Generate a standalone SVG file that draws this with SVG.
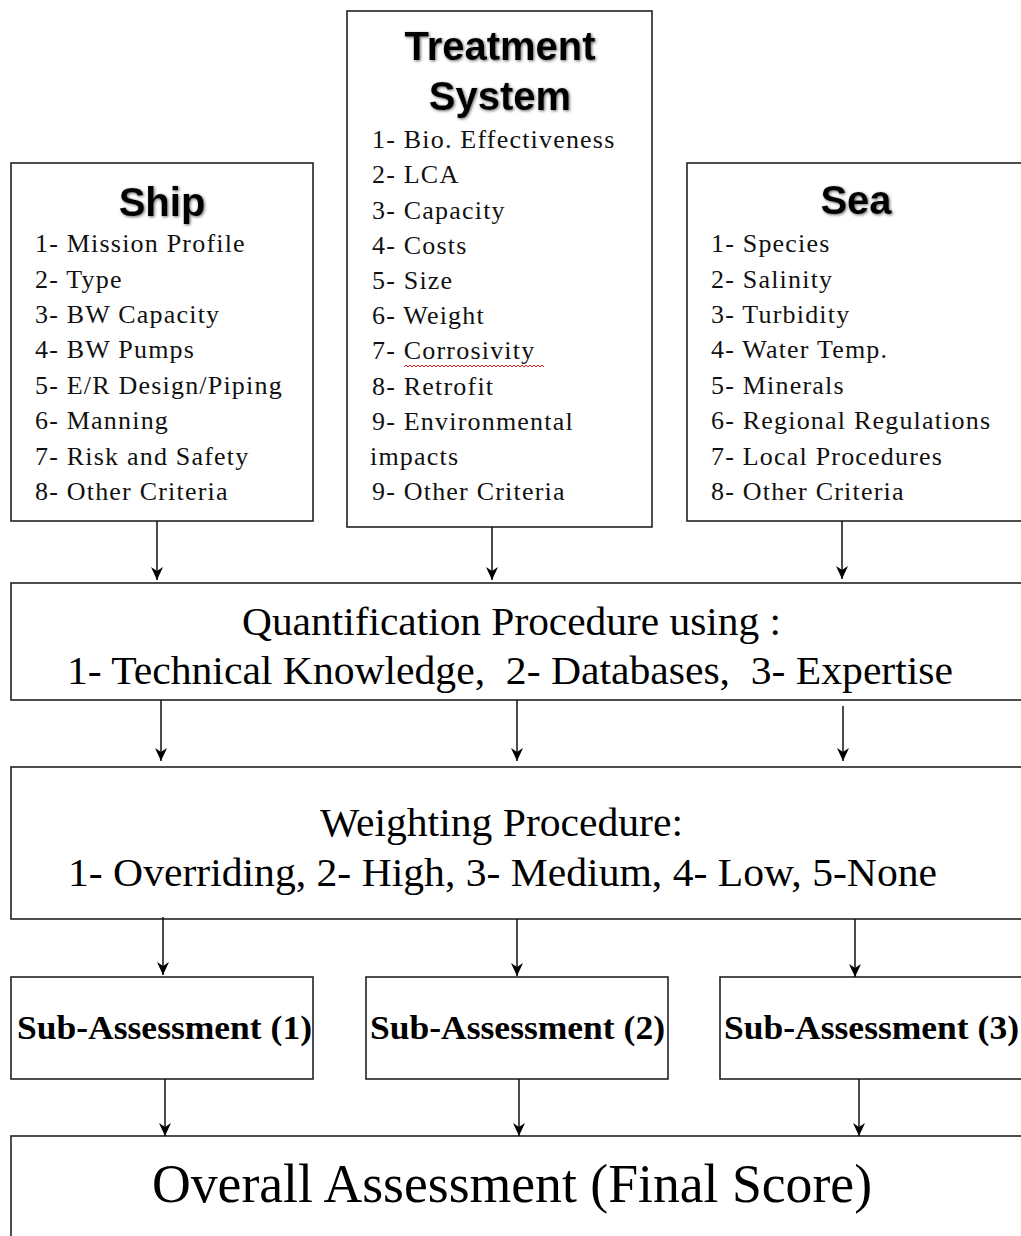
<svg xmlns="http://www.w3.org/2000/svg" width="1021" height="1236" viewBox="0 0 1021 1236">
<style>
.box{fill:#fff;stroke:#222;stroke-width:1.6}
.hdr{font-family:"Liberation Sans",Arial,sans-serif;font-weight:bold;font-size:40px;fill:#000;text-anchor:middle}
.item{font-family:"Liberation Serif","Times New Roman",serif;font-size:26px;letter-spacing:1.2px;fill:#111}
.big{font-family:"Liberation Serif","Times New Roman",serif;font-size:39px;fill:#000}
.sub{font-family:"Liberation Serif","Times New Roman",serif;font-weight:bold;font-size:34px;fill:#000}
.final{font-family:"Liberation Serif","Times New Roman",serif;font-size:54px;fill:#000}
.conn{stroke:#111;stroke-width:1.5;fill:none}
</style>
<defs>
<marker id="arr" markerUnits="userSpaceOnUse" markerWidth="14" markerHeight="14" refX="13" refY="6" orient="auto">
<path d="M0,0 L13,6 L0,12 L4,6 z" fill="#000"/>
</marker>
<filter id="shadow" x="-10%" y="-20%" width="130%" height="150%">
<feGaussianBlur in="SourceAlpha" stdDeviation="1.4" result="b"/>
<feOffset in="b" dx="1" dy="1" result="o"/>
<feFlood flood-color="#666" result="c"/>
<feComposite in="c" in2="o" operator="in" result="s"/>
<feMerge><feMergeNode in="s"/><feMergeNode in="SourceGraphic"/></feMerge>
</filter>
</defs>

<g id="ship">
<rect class="box" x="11" y="163" width="302" height="358"/>
<text class="hdr" x="162" y="216" filter="url(#shadow)">Ship</text>
<text class="item" x="35" y="252">1- Mission Profile</text>
<text class="item" x="35" y="287.5">2- Type</text>
<text class="item" x="35" y="323">3- BW Capacity</text>
<text class="item" x="35" y="358">4- BW Pumps</text>
<text class="item" x="35" y="393.5">5- E/R Design/Piping</text>
<text class="item" x="35" y="429">6- Manning</text>
<text class="item" x="35" y="464.5">7- Risk and Safety</text>
<text class="item" x="35" y="500">8- Other Criteria</text>
</g>

<g id="treatment">
<rect class="box" x="347" y="11" width="305" height="516"/>
<text class="hdr" x="500" y="60" filter="url(#shadow)">Treatment</text>
<text class="hdr" x="500" y="110" filter="url(#shadow)">System</text>
<text class="item" x="372" y="148">1- Bio. Effectiveness</text>
<text class="item" x="372" y="183">2- LCA</text>
<text class="item" x="372" y="218.5">3- Capacity</text>
<text class="item" x="372" y="253.5">4- Costs</text>
<text class="item" x="372" y="289">5- Size</text>
<text class="item" x="372" y="324">6- Weight</text>
<text class="item" x="372" y="359">7- Corrosivity</text>
<path d="M404,367 l2,-2 l2,2 l2,-2 l2,2 l2,-2 l2,2 l2,-2 l2,2 l2,-2 l2,2 l2,-2 l2,2 l2,-2 l2,2 l2,-2 l2,2 l2,-2 l2,2 l2,-2 l2,2 l2,-2 l2,2 l2,-2 l2,2 l2,-2 l2,2 l2,-2 l2,2 l2,-2 l2,2 l2,-2 l2,2 l2,-2 l2,2 l2,-2 l2,2 l2,-2 l2,2 l2,-2 l2,2 l2,-2 l2,2 l2,-2 l2,2 l2,-2 l2,2 l2,-2 l2,2 l2,-2 l2,2 l2,-2 l2,2 l2,-2 l2,2 l2,-2 l2,2 l2,-2 l2,2 l2,-2 l2,2 l2,-2 l2,2 l2,-2 l2,2 l2,-2 l2,2 l2,-2 l2,2 l2,-2 l2,2" fill="none" stroke="#e02020" stroke-width="1"/>
<text class="item" x="372" y="394.5">8- Retrofit</text>
<text class="item" x="372" y="429.5">9- Environmental</text>
<text class="item" x="370" y="465">impacts</text>
<text class="item" x="372" y="500">9- Other Criteria</text>
</g>

<g id="sea">
<rect class="box" x="687" y="163" width="340" height="358"/>
<text class="hdr" x="856" y="214" filter="url(#shadow)">Sea</text>
<text class="item" x="711" y="252">1- Species</text>
<text class="item" x="711" y="287.5">2- Salinity</text>
<text class="item" x="711" y="323">3- Turbidity</text>
<text class="item" x="711" y="358">4- Water Temp.</text>
<text class="item" x="711" y="393.5">5- Minerals</text>
<text class="item" x="711" y="429">6- Regional Regulations</text>
<text class="item" x="711" y="464.5">7- Local Procedures</text>
<text class="item" x="711" y="500">8- Other Criteria</text>
</g>

<g id="quantification">
<rect class="box" x="11" y="583" width="1016" height="117"/>
<text class="big" x="242" y="635" textLength="539" lengthAdjust="spacingAndGlyphs">Quantification Procedure using :</text>
<text class="big" x="67" y="684" textLength="886" lengthAdjust="spacingAndGlyphs" xml:space="preserve">1- Technical Knowledge,  2- Databases,  3- Expertise</text>
</g>

<g id="weighting">
<rect class="box" x="11" y="767" width="1016" height="152"/>
<text class="big" x="320" y="836" textLength="363" lengthAdjust="spacingAndGlyphs">Weighting Procedure:</text>
<text class="big" x="68" y="886" textLength="869" lengthAdjust="spacingAndGlyphs">1- Overriding, 2- High, 3- Medium, 4- Low, 5-None</text>
</g>

<g id="sub1">
<rect class="box" x="11" y="977" width="302" height="102"/>
<text class="sub" x="17" y="1039" textLength="295" lengthAdjust="spacingAndGlyphs">Sub-Assessment (1)</text>
</g>
<g id="sub2">
<rect class="box" x="366" y="977" width="302" height="102"/>
<text class="sub" x="370" y="1039" textLength="295" lengthAdjust="spacingAndGlyphs">Sub-Assessment (2)</text>
</g>
<g id="sub3">
<rect class="box" x="720" y="977" width="310" height="102"/>
<text class="sub" x="724" y="1039" textLength="295" lengthAdjust="spacingAndGlyphs">Sub-Assessment (3)</text>
</g>

<g id="overall">
<rect class="box" x="11" y="1136" width="1016" height="110"/>
<text class="final" x="152" y="1202" textLength="720" lengthAdjust="spacingAndGlyphs">Overall Assessment (Final Score)</text>
</g>

<g id="connectors">
<line class="conn" x1="157" y1="521" x2="157" y2="580" marker-end="url(#arr)"/>
<line class="conn" x1="492" y1="527" x2="492" y2="580" marker-end="url(#arr)"/>
<line class="conn" x1="842" y1="521" x2="842" y2="579" marker-end="url(#arr)"/>
<line class="conn" x1="161" y1="700" x2="161" y2="761" marker-end="url(#arr)"/>
<line class="conn" x1="517" y1="700" x2="517" y2="761" marker-end="url(#arr)"/>
<line class="conn" x1="843" y1="706" x2="843" y2="761" marker-end="url(#arr)"/>
<line class="conn" x1="163" y1="917" x2="163" y2="975" marker-end="url(#arr)"/>
<line class="conn" x1="517" y1="919" x2="517" y2="976" marker-end="url(#arr)"/>
<line class="conn" x1="855" y1="919" x2="855" y2="977" marker-end="url(#arr)"/>
<line class="conn" x1="165" y1="1079" x2="165" y2="1136" marker-end="url(#arr)"/>
<line class="conn" x1="519" y1="1079" x2="519" y2="1136" marker-end="url(#arr)"/>
<line class="conn" x1="859" y1="1079" x2="859" y2="1136" marker-end="url(#arr)"/>
</g>
</svg>
